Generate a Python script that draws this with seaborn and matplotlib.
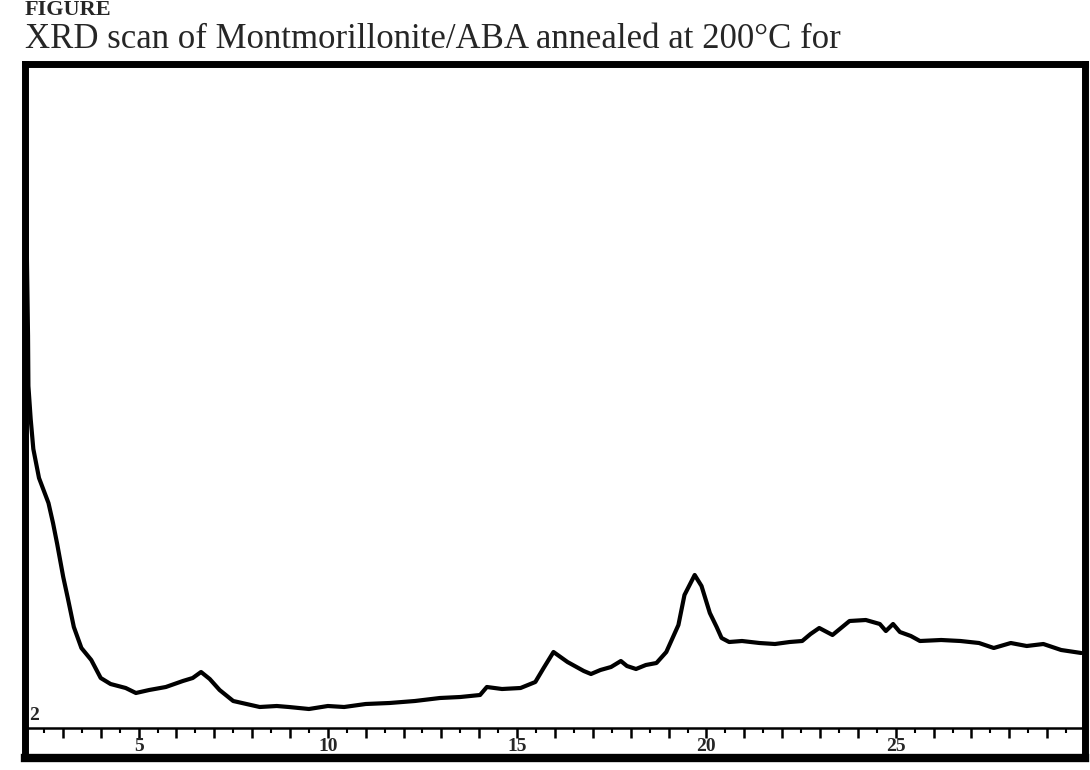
import numpy as np
import pandas as pd
import matplotlib
matplotlib.use("Agg")
import matplotlib.pyplot as plt
import matplotlib.ticker as mticker
import seaborn as sns

# ---- data (2-theta in degrees, intensity in arbitrary units) ----
two_theta = [2.0, 2.03, 2.05, 2.08, 2.09, 2.15, 2.22, 2.37, 2.62, 2.74, 2.85, 3.01, 3.13,
             3.29, 3.49, 3.75, 4.0, 4.26, 4.66, 4.93, 5.28, 5.72, 6.17, 6.43, 6.65, 6.88,
             7.14, 7.5, 7.85, 8.2, 8.65, 8.97, 9.5, 10.0, 10.43, 11.0, 11.63, 12.3, 12.96,
             13.5, 14.02, 14.2, 14.6, 15.09, 15.48, 15.7, 15.96, 16.33, 16.76, 16.95, 17.2,
             17.48, 17.74, 17.9, 18.14, 18.4, 18.68, 18.94, 19.26, 19.42, 19.69, 19.87,
             20.09, 20.27, 20.40, 20.6, 20.94, 21.4, 21.81, 22.2, 22.53, 22.75, 22.98,
             23.33, 23.78, 24.21, 24.58, 24.74, 24.93, 25.11, 25.4, 25.64, 26.2, 26.71,
             27.2, 27.59, 28.04, 28.46, 28.9, 29.37, 29.9]
intensity = [660, 560, 471, 392, 342, 309, 279, 250, 225, 205, 184, 151, 130,
             101, 80, 68, 50, 44, 40, 35, 38, 41, 47, 50, 56, 49,
             38, 27, 24, 21, 22, 21, 19, 22, 21, 24, 25, 27, 30,
             31, 33, 41, 39, 40, 46, 60, 76, 66, 57, 54, 58,
             61, 67, 62, 59, 63, 65, 76, 103, 133, 153, 142,
             115, 101, 90, 86, 87, 85, 84, 86, 87, 94, 100,
             93, 107, 108, 104, 97, 104, 96, 92, 87, 88, 87,
             85, 80, 85, 82, 84, 78, 75]

tick_labels = {5: "5", 10: "10", 15: "15", 20: "20", 25: "25"}
origin_label = "2"
title_top = "FIGURE"
title_line = "XRD scan of Montmorillonite/ABA annealed at 200°C for"

df = pd.DataFrame({"two_theta": two_theta, "intensity": intensity})

sns.set_theme(style="white")
plt.rcParams["font.family"] = ["Liberation Serif", "DejaVu Serif"]

fig = plt.figure(figsize=(10.9, 7.7), dpi=100)
ax = fig.add_axes([25 / 1090, 12 / 770, 1060 / 1090, 694 / 770])

sns.lineplot(data=df, x="two_theta", y="intensity", ax=ax, color="black",
             linewidth=3.0, sort=False, estimator=None)

ax.set_xlim(2.0, 30.0)
ax.set_ylim(-30, 664)

# frame
for side in ["left", "right", "top"]:
    ax.spines[side].set_linewidth(5)
    ax.spines[side].set_color("black")
# ruler line at intensity 0
ax.spines["bottom"].set_position(("data", 0))
ax.spines["bottom"].set_linewidth(1.8)
ax.spines["bottom"].set_color("black")
ax.plot([0, 1], [0, 0], transform=ax.transAxes, color="black", lw=6,
        clip_on=False, solid_capstyle="projecting")

ax.xaxis.set_major_locator(mticker.MultipleLocator(1))
ax.xaxis.set_minor_locator(mticker.MultipleLocator(0.5))
ax.xaxis.set_major_formatter(
    mticker.FuncFormatter(lambda v, p: tick_labels.get(int(round(v)), "")))
ax.tick_params(axis="x", which="major", direction="out", length=7, width=1.8,
               color="black", labelsize=14, pad=0, bottom=True)
ax.tick_params(axis="x", which="minor", direction="out", length=3.5, width=1.5,
               color="black", bottom=True)
for lab in ax.get_xticklabels():
    lab.set_fontweight("bold")
ax.text(2.12, 4, origin_label, fontsize=14, fontweight="bold", ha="left", va="bottom")
ax.set_yticks([])
ax.set_xlabel("")
ax.set_ylabel("")

fig.text(25 / 1090, 1 - 10 / 770, title_top, fontsize=16, fontweight="bold",
         ha="left", va="center")
fig.text(25 / 1090, 1 - 40 / 770, title_line, fontsize=25, ha="left", va="center")

fig.savefig("out.png", dpi=100, facecolor="white")
